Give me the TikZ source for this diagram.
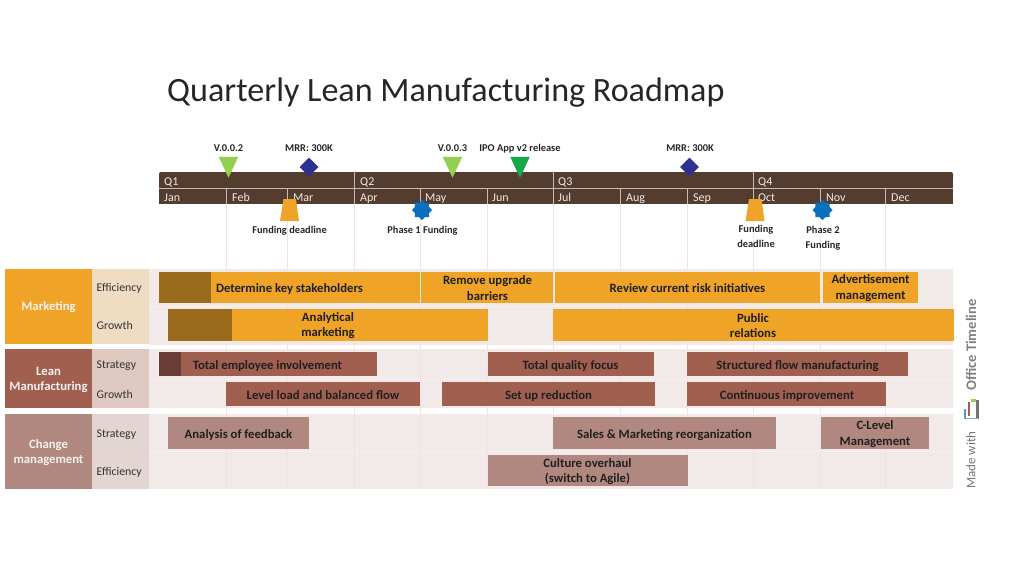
\documentclass[tikz,border=0pt]{standalone}
\usepackage{fontspec}
\setmainfont{Carlito}
\usetikzlibrary{shapes.geometric}
\definecolor{cbar}{HTML}{543C2F}
\definecolor{corange}{HTML}{EFA428}
\definecolor{cdkorange}{HTML}{9A6B1C}
\definecolor{crust}{HTML}{A1604F}
\definecolor{cdkrust}{HTML}{693F35}
\definecolor{cmauve}{HTML}{B18880}
\definecolor{cband}{HTML}{F1EAE8}
\definecolor{cgrid}{HTML}{EBE6E4}
\definecolor{cburst}{HTML}{0A70BE}
\definecolor{clime}{HTML}{92D050}
\definecolor{cgreen}{HTML}{14A84A}
\definecolor{cgem}{HTML}{2E3192}
\definecolor{csuba}{HTML}{EFDCC2}
\definecolor{csubb}{HTML}{DFC8C0}
\definecolor{csubc}{HTML}{E3D5D2}
\tikzset{
  lbl/.style={inner sep=0pt,anchor=base,font=\fontsize{10.4}{11}\selectfont\bfseries,align=center,text=black!85},
  lbltwo/.style={lbl,anchor=center,font=\fontsize{10.4}{15}\selectfont\bfseries},
  period/.style={inner sep=0pt,anchor=base west,font=\fontsize{12}{12}\selectfont,text=white!92!black},
  head/.style={inner sep=0pt,font=\fontsize{12.7}{15}\selectfont\bfseries,align=center,text=white!95!black},
  sub/.style={inner sep=0pt,anchor=base west,font=\fontsize{11.8}{12}\selectfont,text=black!80},
  task/.style={inner sep=0pt,anchor=base,font=\fontsize{12.7}{15}\selectfont\bfseries,align=center,text=black!88},
  tasktwo/.style={task,anchor=center,font=\fontsize{12.7}{15.5}\selectfont\bfseries},
  vee/.style={isosceles triangle,isosceles triangle apex angle=50,shape border rotate=-90,inner sep=0pt,minimum height=21,minimum width=19},
  gem/.style={diamond,fill=cgem,inner sep=0pt,minimum size=19},
  burst/.style={star,star points=8,star point ratio=1.3,fill=cburst,inner sep=0pt,minimum size=20},
  fine/.style={draw=cgrid,line width=0.6pt},
  split/.style={draw=white!65!cbar,line width=0.6pt},
  gap/.style={draw=white!30!cband,line width=0.5pt}
}
\begin{document}
\begin{tikzpicture}[x=1pt,y=-1pt]
  \useasboundingbox (0,0) rectangle (1024,576);
  \def\ytop{172}
  \def\ymid{188.5}
  \def\ybot{204}
  \def\yend{489}
  % title
  \node[anchor=west,inner sep=0pt,font=\fontsize{34.1}{36}\selectfont,text=black!85] (title) at (167,93) {Quarterly Lean Manufacturing Roadmap};
  % row bands
  \fill[cband] (149,269) rectangle (953,344.5);
  \fill[cband] (149,349) rectangle (953,408);
  \fill[cband] (149,414) rectangle (953,489);
  \draw[gap] (149,306.5) -- (953,306.5);
  \draw[gap] (149,379) -- (953,379);
  \draw[gap] (149,451.5) -- (953,451.5);
  % gridlines
  \foreach \x in {226,287,354,420,487,553,620,687,753,820,885}
    \draw[fine] (\x,\ybot) -- (\x,\yend);
  % top bar
  \fill[cbar,rounded corners=2pt] (159,180) |- (953,\ytop) -- (953,180) -- cycle;
  \fill[cbar] (159,178) rectangle (953,\ybot);
  \draw[split] (159,\ymid) -- (953,\ymid);
  \foreach \x in {354,553,753}
    \draw[split] (\x,\ytop) -- (\x,\ybot);
  \foreach \x in {226,287,420,487,620,687,820,885}
    \draw[split] (\x,\ymid) -- (\x,\ybot);
  \node[period] (qa) at (164,185) {Q1};
  \node[period] (qb) at (360,185) {Q2};
  \node[period] (qc) at (558,185) {Q3};
  \node[period] (qd) at (758,185) {Q4};
  \node[period] (jan) at (164,201) {Jan};
  \node[period] (feb) at (232,201) {Feb};
  \node[period] (mar) at (293,201) {Mar};
  \node[period] (apr) at (360,201) {Apr};
  \node[period] (may) at (425,201) {May};
  \node[period] (jun) at (492,201) {Jun};
  \node[period] (jul) at (558,201) {Jul};
  \node[period] (aug) at (626,201) {Aug};
  \node[period] (sep) at (693,201) {Sep};
  \node[period] (oct) at (758,201) {Oct};
  \node[period] (nov) at (826,201) {Nov};
  \node[period] (dec) at (891,201) {Dec};
  % milestones above
  \node[vee,fill=clime] (vb) at (228.5,163) {};
  \node[gem] (mrra) at (309,167) {};
  \node[vee,fill=clime] (vc) at (452.5,163) {};
  \node[vee,fill=cgreen] (ipo) at (520,163) {};
  \node[gem] (mrrb) at (689.5,167) {};
  \node[lbl] (vbt) at (228.5,151.5) {V.0.0.2};
  \node[lbl] (mrrat) at (309,151.5) {MRR: 300K};
  \node[lbl] (vct) at (452.5,151.5) {V.0.0.3};
  \node[lbl] (ipot) at (520,151.5) {IPO App v2 release};
  \node[lbl] (mrrbt) at (690,151.5) {MRR: 300K};
  % milestones below
  \fill[corange] (283.5,199) -- (296,199) -- (299,221) -- (280,221) -- cycle;
  \node[burst] (pha) at (422,210) {};
  \fill[corange] (749,199) -- (761.5,199) -- (764.5,221) -- (745.5,221) -- cycle;
  \node[burst] (phb) at (822.5,210) {};
  \node[lbl] (fdat) at (289.5,233) {Funding deadline};
  \node[lbl] (phat) at (422.5,233) {Phase 1 Funding};
  \node[lbltwo] (fdbt) at (756,236.5) {Funding\\deadline};
  \node[lbltwo] (phbt) at (823,238.5) {Phase 2\\Funding};
  % headers
  \fill[corange] (5,269) rectangle (92,344);
  \fill[crust] (5,349) rectangle (92,408);
  \fill[cmauve] (5,414) rectangle (92,489);
  \fill[csuba] (92,269) rectangle (149,344);
  \fill[csubb] (92,349) rectangle (149,408);
  \fill[csubc] (92,414) rectangle (149,489);
  \node[head] (mkt) at (48.5,307) {Marketing};
  \node[head] (lean) at (48.5,380) {Lean\\Manufacturing};
  \node[head] (chg) at (48.5,453) {Change\\management};
  \node[sub] (sa) at (96.5,291.5) {Ef{}f{}iciency};
  \node[sub] (sb) at (96.5,329.5) {Growth};
  \node[sub] (sc) at (96.5,368.5) {Strategy};
  \node[sub] (sd) at (96.5,398.5) {Growth};
  \node[sub] (se) at (96.5,437.5) {Strategy};
  \node[sub] (sf) at (96.5,475) {Ef{}f{}iciency};
  % marketing bars
  \fill[corange] (159,272) rectangle (420,303);
  \fill[cdkorange] (159,272) rectangle (211,303);
  \fill[corange] (421,272) rectangle (553,303);
  \fill[corange] (554.5,272) rectangle (820,303);
  \fill[corange] (823,272) rectangle (918,303);
  \fill[corange] (168,309) rectangle (488,341);
  \fill[cdkorange] (168,309) rectangle (232,341);
  \fill[corange] (553,309) rectangle (954,341);
  \node[task] (ta) at (289.5,292) {Determine key stakeholders};
  \node[tasktwo] (tb) at (487.5,288) {Remove upgrade\\barriers};
  \node[task] (tc) at (687.5,292) {Review current risk initiatives};
  \node[tasktwo] (td) at (870.5,288) {Advertisement\\management};
  \node[tasktwo] (te) at (328,325.5) {Analytical\\marketing};
  \node[tasktwo] (tf) at (753,325.5) {Public\\relations};
  % lean bars
  \fill[crust] (159,352) rectangle (377,376);
  \fill[cdkrust] (159,352) rectangle (181,376);
  \fill[crust] (226,382) rectangle (420,406);
  \fill[crust] (488,352) rectangle (654,376);
  \fill[crust] (442,382) rectangle (655,406);
  \fill[crust] (687,352) rectangle (908,376);
  \fill[crust] (687,382) rectangle (886,406);
  \node[task] (tg) at (267.5,369) {Total employee involvement};
  \node[task] (th) at (323,399) {Level load and balanced flow};
  \node[task] (ti) at (570.5,369) {Total quality focus};
  \node[task] (tj) at (548.5,399) {Set up reduction};
  \node[task] (tk) at (797.5,369) {Structured flow manufacturing};
  \node[task] (tl) at (787,399) {Continuous improvement};
  % change bars
  \fill[cmauve] (168,417) rectangle (309,449);
  \fill[cmauve] (553,417) rectangle (776,449);
  \fill[cmauve] (821,417) rectangle (929,449);
  \fill[cmauve] (488,455) rectangle (688,486);
  \node[task] (tm) at (238.5,438) {Analysis of feedback};
  \node[task] (tn) at (664.5,438) {Sales \& Marketing reorganization};
  \node[tasktwo] (to) at (875,434) {C-Level\\Management};
  \node[tasktwo] (tp) at (587.5,471.5) {Culture overhaul\\(switch to Agile)};
  % brand
  \node[rotate=90,anchor=west,inner sep=0pt,font=\fontsize{13}{14}\selectfont,text=black!55] (made) at (971,489) {Made with};
  \node[rotate=90,anchor=west,inner sep=0pt,font=\fontsize{14.6}{16}\selectfont\bfseries,text=black!50] (otl) at (971,391) {Office Timeline};
  \fill[black!55] (976,400) rectangle (978.5,419);
  \fill[black!35] (964,417.5) rectangle (978,419);
  \fill[cburst!70!white] (963.5,409) rectangle (966,419);
  \fill[crust] (968,402) rectangle (970,416);
  \fill[clime] (971,399) rectangle (976,401.5);
\end{tikzpicture}
\end{document}
